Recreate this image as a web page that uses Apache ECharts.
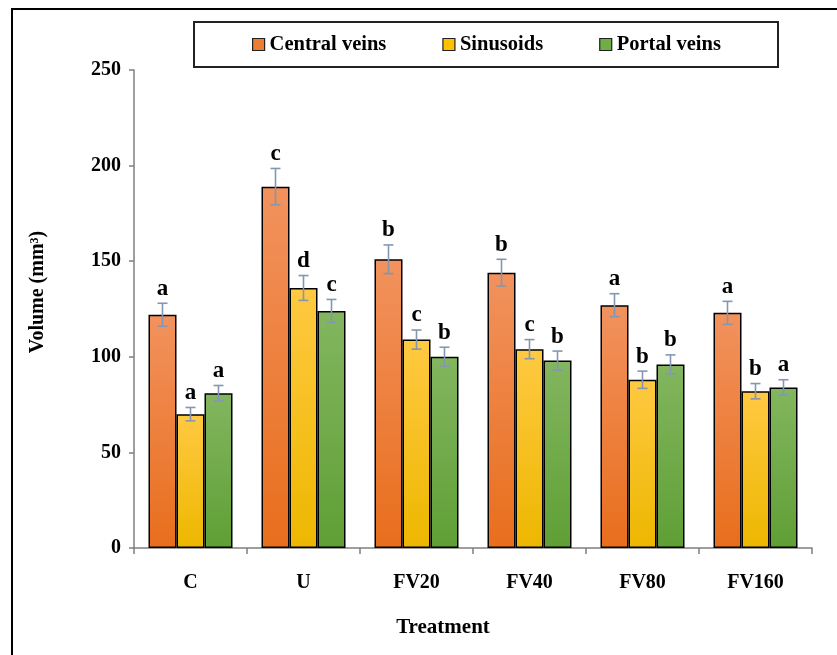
<!DOCTYPE html>
<html><head><meta charset="utf-8">
<script src="https://cdn.jsdelivr.net/npm/echarts@6/dist/echarts.min.js"></script>
<style>html,body{margin:0;padding:0;background:#fff}#c{width:837px;height:655px}</style>
</head><body><div id="c"></div>
<script>
const categories = ['C','U','FV20','FV40','FV80','FV160'];
const centralVeins = [122,189,151,144,127,123];
const sinusoids = [70,136,109,104,88,82];
const portalVeins = [81,124,100,98,96,84];
const centralErr = [6,9.5,7.5,7,6,6];
const sinusoidsErr = [3.5,6.5,5,5,4.5,4];
const portalErr = [4,6,5,5,5,4];
const centralLetters = ['a','c','b','b','a','a'];
const sinusoidsLetters = ['a','d','c','c','b','b'];
const portalLetters = ['a','c','b','b','b','a'];
const yTicks = [0,50,100,150,200,250];

const FONT = 'Liberation Serif';
const BW = 28;
const grad = (t,b)=>new echarts.graphic.LinearGradient(0,0,0,1,[{offset:0,color:t},{offset:1,color:b}]);
const colors = [
  {t:'#F2925E',b:'#E86E1C',solid:'#ED7D31'},
  {t:'#FFC942',b:'#EDB700',solid:'#FFC000'},
  {t:'#83B65F',b:'#5F9F35',solid:'#70AD47'}
];
const names = ['Central veins','Sinusoids','Portal veins'];
const vals = [centralVeins, sinusoids, portalVeins];
const errs = [centralErr, sinusoidsErr, portalErr];
const letters = [centralLetters, sinusoidsLetters, portalLetters];

const series = [];
vals.forEach((v,i)=>{
  series.push({
    name: names[i], type:'bar', data: v, barWidth: BW, barGap:'0%',
    itemStyle:{color: grad(colors[i].t, colors[i].b), borderColor:'#000', borderWidth:1.5}
  });
});
vals.forEach((v,i)=>{
  series.push({
    type:'custom', silent:true, z:5,
    data: v.map((val,k)=>[k,val,errs[i][k]]),
    renderItem:(params, api)=>{
      const k = api.value(0), val = api.value(1), e = api.value(2);
      const off = (i-1)*BW;
      const pt = api.coord([k, val+e]);
      const pb = api.coord([k, val-e]);
      const x = pt[0] + off;
      const st = {stroke:'#8497B0', lineWidth:1.6};
      return {type:'group', children:[
        {type:'line', shape:{x1:x,y1:pt[1],x2:x,y2:pb[1]}, style:st},
        {type:'line', shape:{x1:x-5,y1:pt[1],x2:x+5,y2:pt[1]}, style:st},
        {type:'line', shape:{x1:x-5,y1:pb[1],x2:x+5,y2:pb[1]}, style:st},
        {type:'text', x:x, y:pt[1]-3, style:{text:letters[i][params.dataIndex], fill:'#000',
          font:'bold 23px "'+FONT+'"', align:'center', verticalAlign:'bottom'}}
      ]};
    }
  });
});

const chart = echarts.init(document.getElementById('c'));
chart.setOption({
  animation:false,
  backgroundColor:'#fff',
  grid:{left:134, right:25, top:70, bottom:107},
  legend:{
    data: names.map((n,i)=>({name:n, itemStyle:{color:colors[i].solid, borderColor:'#222', borderWidth:1.2}})),
    left:247, top:29, itemWidth:12, itemHeight:12, itemGap:56, icon:'rect',
    textStyle:{fontFamily:FONT, fontWeight:'bold', fontSize:20.5, color:'#000'}
  },
  xAxis:{
    type:'category', data:categories,
    axisLine:{lineStyle:{color:'#7f7f7f', width:1.5}},
    axisTick:{show:true, length:6, lineStyle:{color:'#7f7f7f', width:1.5}},
    axisLabel:{fontFamily:FONT, fontWeight:'bold', fontSize:20, color:'#000', margin:25}
  },
  yAxis:{
    type:'value', min:yTicks[0], max:yTicks[yTicks.length-1], interval:50,
    axisLine:{show:true, lineStyle:{color:'#7f7f7f', width:1.5}},
    axisTick:{show:true, length:5, lineStyle:{color:'#7f7f7f', width:1.5}},
    splitLine:{show:false},
    axisLabel:{fontFamily:FONT, fontWeight:'bold', fontSize:20, color:'#000', margin:13}
  },
  graphic:[
    {type:'rect', shape:{x:12,y:9,width:900,height:700}, style:{fill:'none', stroke:'#000', lineWidth:2}, z:-1},
    {type:'rect', shape:{x:194,y:22,width:584,height:45}, style:{fill:'none', stroke:'#222', lineWidth:2}, z:-1},
    {type:'text', x:38, y:292, rotation:Math.PI/2, style:{text:'Volume (mm³)', font:'bold 20px "'+FONT+'"', fill:'#000', align:'center', verticalAlign:'middle'}},
    {type:'text', x:443, y:628, style:{text:'Treatment', font:'bold 21px "'+FONT+'"', fill:'#000', align:'center', verticalAlign:'middle'}}
  ],
  series: series
});
</script>
</body></html>
